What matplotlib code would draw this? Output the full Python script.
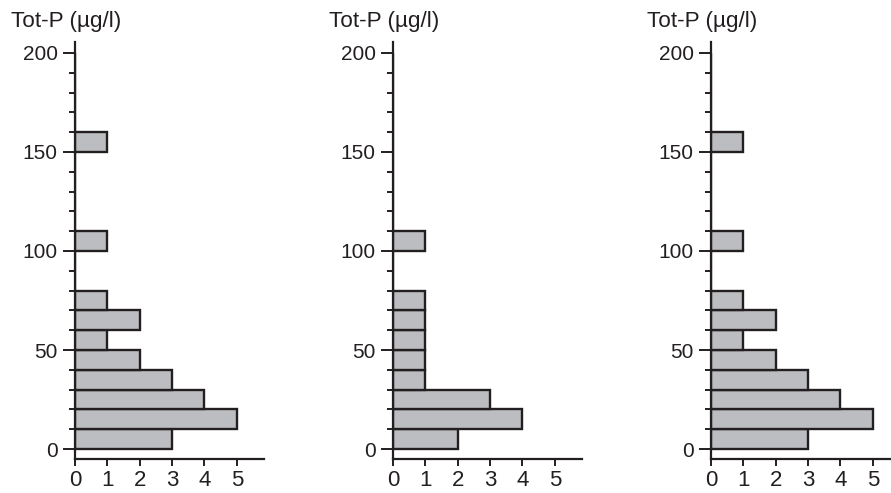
import numpy as np
import matplotlib.pyplot as plt
from matplotlib.ticker import MultipleLocator

# Tot-P classes, 10 ug/l wide, from 0 to 200
bin_edges = np.arange(0, 200, 10)

# number of lakes per class in each panel
counts_a = [3, 5, 4, 3, 2, 1, 2, 1, 0, 0, 1, 0, 0, 0, 0, 1, 0, 0, 0, 0]
counts_b = [2, 4, 3, 1, 1, 1, 1, 1, 0, 0, 1, 0, 0, 0, 0, 0, 0, 0, 0, 0]
counts_c = [3, 5, 4, 3, 2, 1, 2, 1, 0, 0, 1, 0, 0, 0, 0, 1, 0, 0, 0, 0]
panels = [counts_a, counts_b, counts_c]

y_label = "Tot-P (µg/l)"
x_ticks = [0, 1, 2, 3, 4, 5]
y_ticks = [0, 50, 100, 150, 200]

ink = "#231f20"
plt.rcParams.update({
    "font.family": ["Liberation Sans", "DejaVu Sans"],
    "font.size": 15,
    "text.color": ink,
    "axes.edgecolor": ink,
    "xtick.color": ink,
    "ytick.color": ink,
})

W, H = 891, 493
fig = plt.figure(figsize=(W / 100, H / 100), dpi=100)

lefts = [75, 393, 711]
ax_w, top, bottom = 189, 42, 459

for left, counts in zip(lefts, panels):
    ax = fig.add_axes([left / W, 1 - bottom / H, ax_w / W, (bottom - top) / H])
    ax.barh(bin_edges, counts, height=10, align="edge",
            color="#bcbdc0", edgecolor=ink, linewidth=1.7)
    ax.set_xlim(0, 5.84)
    ax.set_ylim(-5, 205.5)
    for s in ("top", "right"):
        ax.spines[s].set_visible(False)
    for s in ("left", "bottom"):
        ax.spines[s].set_linewidth(1.6)
    ax.set_xticks(x_ticks)
    ax.set_yticks(y_ticks)
    ax.yaxis.set_minor_locator(MultipleLocator(10))
    ax.tick_params(axis="y", which="major", length=8.6, width=1.4, pad=4,
                   labelsize=15)
    ax.tick_params(axis="y", which="minor", length=4.3, width=1.4)
    ax.tick_params(axis="x", which="major", length=5, width=1.4, pad=3,
                   labelsize=16)
    ax.set_facecolor("none")
    # axis title sits above the spine, slightly to the left
    fig.text((left - 9) / W, 1 - 21 / H, y_label, ha="center", va="center",
             fontsize=16.2)

fig.savefig("out.png", dpi=100)
